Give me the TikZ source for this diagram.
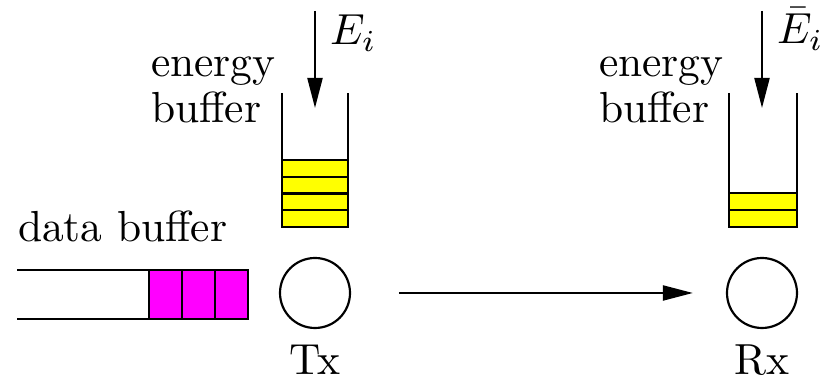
\documentclass[tikz,border=0pt]{standalone}
\usetikzlibrary{arrows.meta, positioning}

\definecolor{cellyellow}{RGB}{255,255,0}
\definecolor{cellmagenta}{RGB}{255,0,255}

\begin{document}
\begin{tikzpicture}[
    x=0.23pt, y=0.23pt,
    line width=0.5pt,
    station/.style={circle, draw, minimum size=16.1pt, inner sep=0pt},
    eslot/.style={rectangle, draw, fill=cellyellow, minimum width=15.18pt, minimum height=3.85pt, inner sep=0pt, outer sep=0pt},
    dslot/.style={rectangle, draw, fill=cellmagenta, minimum width=7.59pt, minimum height=11.27pt, inner sep=0pt, outer sep=0pt},
    txt/.style={inner sep=0pt, anchor=base west, align=left},
    arrow/.style={-{Triangle[length=6.9pt, width=3.45pt]}}
]
\useasboundingbox (0,0) rectangle (823,380);

% transmitter and receiver
\node (tx) at (315,87) [station] {};
\node (rx) at (762,87) [station] {};
\node (txname) at (315,5) [txt, anchor=base] {Tx};
\node (rxname) at (762,5) [txt, anchor=base] {Rx};

\draw[arrow, shorten <=11pt, shorten >=7.6pt] (tx) -- (rx);

% data buffer
\draw (17,110) -- (248,110);
\draw (17,61) -- (248,61);
\node (db3) at (231.5,85.5) [dslot] {};
\node (db2) [dslot, left=0pt of db3] {};
\node (db1) [dslot, left=0pt of db2] {};
\node (datatext) at (17,138) [txt] {data buffer};

% energy buffer at Tx
\node (tb1) at (315,161.4) [eslot] {};
\node (tb2) [eslot, above=0pt of tb1] {};
\node (tb3) [eslot, above=0pt of tb2] {};
\node (tb4) [eslot, above=0pt of tb3] {};
\draw (282,287) -- (282,153) -- (348,153) -- (348,287);
\node (txbuf) at (150,257) [txt] {energy\\[-1.4pt]buffer};
\coordinate (txin) at (315,369);
\coordinate (txtip) at (315,272);
\draw[arrow] (txin) -- (txtip);
\node (txenergy) at (329,335) [txt] {$E_i$};

% energy buffer at Rx
\node (rb1) at (763,161.5) [eslot, minimum width=15.64pt] {};
\node (rb2) [eslot, minimum width=15.64pt, above=0pt of rb1] {};
\draw (729,287) -- (729,153) -- (797,153) -- (797,287);
\node (rxbuf) at (598,257) [txt] {energy\\[-1.4pt]buffer};
\coordinate (rxin) at (762,369);
\coordinate (rxtip) at (762,272);
\draw[arrow] (rxin) -- (rxtip);
\node (rxenergy) at (776,336) [txt] {$\bar{E}_i$};
\end{tikzpicture}
\end{document}
